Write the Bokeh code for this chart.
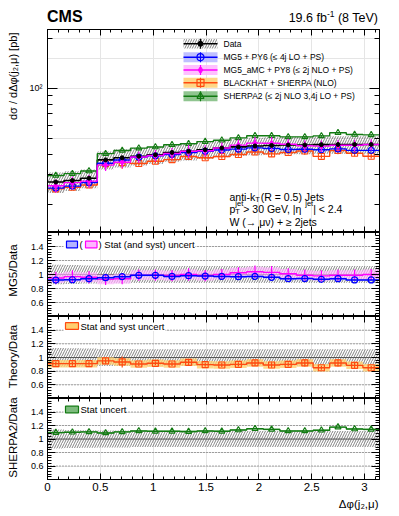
import numpy as np
from bokeh.plotting import figure
from bokeh.layouts import column, row
from bokeh.models import (Range1d, LinearScale, LinearAxis, LogAxis, FixedTicker,
                          CustomJSTickFormatter, Label, Span, Div)
from bokeh.embed import file_html
from bokeh.resources import INLINE

# ---------------- data ----------------
n_bins = 20
phi_max = np.pi

data_xs = [27.2, 27.8, 28.7, 37.0, 38.1, 38.9, 39.7, 41.0, 41.7, 42.6,
           43.6, 44.3, 44.9, 45.2, 45.5, 45.5, 45.7, 45.8, 45.8, 45.8]
data_tot_rel = [0.14, 0.135, 0.13, 0.125, 0.125, 0.12, 0.12, 0.12, 0.12, 0.12,
                0.12, 0.12, 0.12, 0.12, 0.12, 0.12, 0.12, 0.12, 0.12, 0.12]
data_stat_rel = [0.012] * 20

mg5_xs = [25.02, 25.72, 26.98, 35.30, 36.92, 38.43, 39.22, 39.89, 40.99, 41.66,
          42.42, 42.93, 43.69, 43.35, 42.77, 42.86, 42.55, 43.10, 42.23, 42.23]
mg5_stat_rel = [0.015] * 20

amc_xs = [25.84, 26.97, 27.55, 34.41, 35.81, 38.51, 39.30, 40.39, 41.70, 41.96,
          43.60, 45.41, 46.70, 46.56, 45.96, 45.05, 44.79, 45.34, 45.34, 45.80]
amc_err_rel = [0.09, 0.09, 0.09, 0.08, 0.08, 0.08, 0.08, 0.08, 0.09, 0.08,
               0.08, 0.08, 0.09, 0.09, 0.08, 0.08, 0.08, 0.08, 0.08, 0.08]
amc_band_rel = [0.07] * 20

bh_xs = [24.75, 25.30, 26.12, 35.15, 35.62, 35.20, 36.33, 37.11, 38.78, 38.13,
         38.80, 39.87, 41.31, 40.23, 40.95, 41.86, 38.85, 42.14, 40.53, 38.93]
bh_err_rel = [0.03, 0.03, 0.03, 0.04, 0.08, 0.03, 0.03, 0.03, 0.04, 0.03,
              0.03, 0.03, 0.04, 0.04, 0.03, 0.05, 0.03, 0.05, 0.04, 0.03]
bh_band_rel = [0.055] * 20

sh2_xs = [29.78, 30.58, 31.71, 40.33, 42.10, 43.53, 44.23, 45.67, 46.29, 47.67,
          48.57, 50.19, 51.72, 51.66, 50.91, 50.91, 51.60, 53.86, 52.58, 52.35]
sh2_stat_rel = [0.012] * 20

x_ticks = [0, 0.5, 1, 1.5, 2, 2.5, 3]
x_tick_labels = ["0", "0.5", "1", "1.5", "2", "2.5", "3"]
ratio_ticks = [0.6, 0.8, 1.0, 1.2, 1.4]
ratio_tick_labels = ["0.6", "0.8", "1", "1.2", "1.4"]
main_ticks = [100]
main_tick_labels = ["10\u00b2"]

# ---------------- style / geometry ----------------
FONT = "Liberation Sans"
C_BLUE, B_BLUE = "#0000ff", "#b4b4ff"
C_MAG, B_MAG = "#ff00ff", "#ffb4ff"
C_ORA, B_ORA = "#ff4a10", "#ffcf70"
C_GRN, B_GRN = "#127a12", "#7dbb7d"
HATCH = "#5a5a5a"

LEFT_W = 22            # width of the strip holding the y titles
COL_W = 369            # width of the panel column
FX0, FX1 = 47, 379     # frame left / right (page px)
BL, BR = FX0 - LEFT_W, LEFT_W + COL_W - FX1
Y_MAIN = (29, 232)
Y_R1 = (232, 316)
Y_R2 = (316, 398)
Y_R3 = (398, 479)
R3_BOTTOM = 17
FOOT_H = 17
TOTAL_H = Y_R3[1] + R3_BOTTOM + FOOT_H

edges = np.linspace(0, phi_max, n_bins + 1)
lo, hi = edges[:-1], edges[1:]
ctr = 0.5 * (lo + hi)

data = np.array(data_xs)
models = {k: np.array(v) for k, v in
          dict(mg5=mg5_xs, amc=amc_xs, bh=bh_xs, sh2=sh2_xs).items()}

WID = {' ': 278, '(': 333, ')': 333, '-': 333, '.': 278, ',': 278, '/': 278, '=': 584,
       '+': 584, '>': 584, '<': 584, '|': 260, 'a': 556, 'b': 556, 'c': 500, 'd': 556,
       'e': 556, 'f': 278, 'i': 222, 'j': 222, 'k': 500, 'n': 556, 'p': 556, 'r': 333,
       's': 500, 't': 278, 'u': 556, 'y': 500, 'G': 778, 'J': 500, 'R': 722, 'T': 611,
       'V': 667, 'W': 944, 'η': 556}


def tw(s, size):
    return sum(WID.get(c, 556) for c in s) / 1000.0 * size


def fmt(ticks, labels):
    return CustomJSTickFormatter(args=dict(t=list(ticks), l=list(labels)), code="""
        for (let i = 0; i < t.length; i++) { if (Math.abs(t[i] - tick) < 1e-6) return l[i]; }
        return "";""")


def style_axis(ax, tin, tmin, labels, size="9px", standoff=4):
    ax.major_tick_in = tin
    ax.major_tick_out = 0
    ax.minor_tick_in = tmin
    ax.minor_tick_out = 0
    ax.axis_line_color = "black"
    ax.major_tick_line_color = "black"
    ax.minor_tick_line_color = "black"
    ax.major_label_text_font = FONT
    ax.major_label_text_color = "black"
    if labels:
        ax.major_label_text_font_size = size
        ax.major_label_standoff = standoff
    else:
        ax.major_label_text_font_size = "0px"
        ax.major_label_standoff = 0


def text_fig(w, h, xr, yr, bl=0, br=0):
    """A bare figure used only for text; its frame spans x range xr and the full height."""
    p = figure(width=w, height=h, x_range=Range1d(*xr), y_range=Range1d(*yr), title=None,
               x_axis_location=None, y_axis_location=None, output_backend="svg",
               toolbar_location=None, min_border_left=bl, min_border_right=br,
               min_border_top=0, min_border_bottom=0)
    p.outline_line_color = None
    p.grid.visible = False
    p.background_fill_color = "white"
    p.border_fill_color = "white"
    return p


def make_fig(yspan, yr, log=False, bb=0):
    p = figure(width=COL_W, height=yspan[1] - yspan[0] + bb, x_range=Range1d(0, phi_max),
               y_range=yr, y_axis_type="log" if log else "linear", title=None,
               x_axis_location=None, y_axis_location=None,
               output_backend="svg", toolbar_location=None,
               min_border_left=BL, min_border_right=BR,
               min_border_top=0, min_border_bottom=bb)
    p.extra_x_ranges = {"px": Range1d(FX0, FX1)}
    p.extra_y_ranges = {"py": Range1d(yspan[1], yspan[0])}
    p.extra_x_scales = {"px": LinearScale()}
    p.extra_y_scales = {"py": LinearScale()}
    p.outline_line_color = "black"
    p.outline_line_width = 1
    p.background_fill_color = "white"
    p.border_fill_color = "white"
    return p


def x_axes(p, labels_below=False):
    for loc in ["below", "above"]:
        lab = labels_below and loc == "below"
        ax = LinearAxis(ticker=FixedTicker(ticks=x_ticks, minor_ticks=[k / 10 for k in range(32)]),
                        formatter=fmt(x_ticks, x_tick_labels if lab else [""] * len(x_ticks)))
        style_axis(ax, 6, 3, lab, "11.5px", 3)
        p.add_layout(ax, loc)


def ratio_y_axes(p):
    for loc in ["left", "right"]:
        lab = loc == "left"
        ax = LinearAxis(ticker=FixedTicker(ticks=ratio_ticks,
                                           minor_ticks=[0.4 + 0.04 * k for k in range(31)]),
                        formatter=fmt(ratio_ticks, ratio_tick_labels if lab else [""] * 5))
        style_axis(ax, 8, 4, lab, "9px", 4)
        p.add_layout(ax, loc)


def txt(p, x, y, text, size, align="left", baseline="alphabetic", angle=0.0,
        bold=False, color="black", ranges=True):
    kw = dict(x_range_name="px", y_range_name="py") if ranges else {}
    p.add_layout(Label(x=x, y=y, text=text, text_font=FONT, text_font_size=f"{size}px",
                       text_align=align, text_baseline=baseline, angle=angle,
                       text_color=color, text_font_style="bold" if bold else "normal", **kw))


def step(p, vals, color, width=1.5):
    p.step(x=edges, y=np.append(vals, vals[-1]), mode="after", line_color=color,
           line_width=width)


def errbars(p, vals, rel, color, width=1.2, ratio=False):
    d = np.array(rel) if ratio else vals * np.array(rel)
    p.segment(x0=ctr, y0=vals - d, x1=ctr, y1=vals + d, line_color=color, line_width=width)


def band(p, vals, half, color, alpha=0.75):
    p.quad(left=lo, right=hi, bottom=vals - half, top=vals + half, fill_color=color,
           fill_alpha=alpha, line_color=None)


def hatch(p, bottom, top, **kw):
    p.quad(left=lo, right=hi, bottom=bottom, top=top, fill_alpha=0, line_color=None,
           hatch_pattern="/", hatch_color=HATCH, hatch_scale=5, hatch_weight=0.75, **kw)


# ---------------- header (HTML text, not clipped) ----------------
header_html = (
    f'<div style="position:relative;width:{COL_W}px;height:{Y_MAIN[0]}px;'
    f'font-family:\'{FONT}\';color:black;">'
    f'<span style="position:absolute;left:{FX0 - LEFT_W}px;top:9px;font-size:16px;'
    f'font-weight:bold;line-height:16px;white-space:nowrap;">CMS</span>'
    f'<span style="position:absolute;right:{BR + 1}px;top:12px;font-size:12.5px;'
    f'line-height:12.5px;white-space:nowrap;">19.6 fb'
    f'<span style="font-size:8.5px;position:relative;top:-5px;">-1</span> (8 TeV)</span>'
    f'</div>')
header = Div(text=header_html, width=COL_W, height=Y_MAIN[0], margin=0)

# ---------------- main panel ----------------
main = make_fig(Y_MAIN, Range1d(13.51, 225.8), log=True)
x_axes(main)
for loc in ["left", "right"]:
    lab = loc == "left"
    ax = LogAxis(ticker=FixedTicker(ticks=main_ticks,
                                    minor_ticks=[20, 30, 40, 50, 60, 70, 80, 90, 200]),
                 formatter=fmt(main_ticks, main_tick_labels if lab else [""]))
    style_axis(ax, 10, 5, lab, "9px", 5)
    main.add_layout(ax, loc)

tot = np.array(data_tot_rel)
hatch(main, data * (1 - tot), data * (1 + tot))

styles = [("sh2", C_GRN, sh2_stat_rel, "triangle"), ("bh", C_ORA, bh_err_rel, "square"),
          ("mg5", C_BLUE, mg5_stat_rel, "circle"), ("amc", C_MAG, amc_err_rel, "diamond")]
step(main, data, "black", 1.6)
for key, col, rel, mk in styles:
    v = models[key]
    step(main, v, col, 1.4)
    errbars(main, v, rel, col)
    if mk == "diamond":
        main.scatter(ctr, v, marker="diamond", size=6, fill_color=col, line_color=col)
    else:
        main.scatter(ctr, v, marker=mk, size=6, fill_color=None, line_color=col, line_width=1.1)
errbars(main, data, data_stat_rel, "black")
main.scatter(ctr, data, marker="circle", size=4, fill_color="black", line_color="black")

# legend in main panel
rows = [43.3, 56.7, 69.5, 82.3, 95.8]
main.quad(left=[183], right=[217], bottom=[48], top=[38.5], fill_alpha=0, line_color=None,
          hatch_pattern="/", hatch_color=HATCH, hatch_scale=5, hatch_weight=0.75,
          x_range_name="px", y_range_name="py")
leg = [("black", None, "circle"), (C_BLUE, B_BLUE, "circle"), (C_MAG, B_MAG, "diamond"),
       (C_ORA, B_ORA, "square"), (C_GRN, B_GRN, "triangle")]
for yrow, (col, bcol, mk) in zip(rows, leg):
    if bcol is not None:
        main.quad(left=[183], right=[217], bottom=[yrow + 5], top=[yrow - 5], fill_color=bcol,
                  fill_alpha=0.85, line_color=None, x_range_name="px", y_range_name="py")
    main.segment(x0=[183], y0=[yrow], x1=[217], y1=[yrow], line_color=col, line_width=1.5,
                 x_range_name="px", y_range_name="py")
    main.segment(x0=[200], y0=[yrow - 5], x1=[200], y1=[yrow + 5], line_color=col,
                 line_width=1.2, x_range_name="px", y_range_name="py")
    if col == "black":
        main.scatter([200], [yrow], marker="circle", size=5, fill_color="black",
                     line_color="black", x_range_name="px", y_range_name="py")
    elif mk == "diamond":
        main.scatter([200], [yrow], marker="diamond", size=7, fill_color=col, line_color=col,
                     x_range_name="px", y_range_name="py")
    else:
        main.scatter([200], [yrow], marker=mk, size=7, fill_color=None, line_color=col,
                     line_width=1.2, x_range_name="px", y_range_name="py")
leg_text = ["Data", "MG5 + PY6 (\u2264 4j LO + PS)", "MG5_aMC + PY8 (\u2264 2j NLO + PS)",
            "BLACKHAT + SHERPA (NLO)", "SHERPA2 (\u2264 2j NLO 3,4j LO + PS)"]
for yrow, t in zip(rows, leg_text):
    txt(main, 223, yrow, t, 8.5, baseline="middle")

# annotation block
fs, fss = 10.5, 7.5
x0 = 229
txt(main, x0, 196, "anti-k", fs)
txt(main, x0 + tw("anti-k", fs), 198.5, "T", fss)
txt(main, x0 + tw("anti-k", fs) + tw("T", fss) + 1, 196, " (R = 0.5) Jets", fs)
xp = x0 + tw("p", fs)
txt(main, x0, 208, "p", fs)
txt(main, xp, 210.5, "T", fss)
txt(main, xp, 203, "jet", fss)
x2 = xp + tw("jet", fss)
txt(main, x2, 208, " > 30 GeV, |\u03b7", fs)
x3 = x2 + tw(" > 30 GeV, |\u03b7", fs)
txt(main, x3, 203, "jet", fss)
txt(main, x3 + tw("jet", fss), 208, "| < 2.4", fs)
txt(main, x0, 221, "W (\u2192 \u03bc\u03bd) + \u2265 2jets", fs)


# ---------------- ratio panels ----------------
def ratio_panel(yspan, bb=0):
    p = make_fig(yspan, Range1d(0.4, 1.6), bb=bb)
    ratio_y_axes(p)
    for v in [0.6, 0.8, 1.2, 1.4]:
        p.add_layout(Span(location=v, dimension="width", line_color="#555555",
                          line_dash="1 2", line_width=1, level="underlay"))
    p.add_layout(Span(location=1.0, dimension="width", line_color="#555555",
                      line_width=1, level="underlay"))
    hatch(p, 1 - tot, 1 + tot)
    return p


def legend_box(p, xa, xb, yc, fill, line):
    p.quad(left=[xa], right=[xb], bottom=[yc + 3.3], top=[yc - 3.3], fill_color=fill,
           line_color=line, line_width=1.2, x_range_name="px", y_range_name="py")


def legend_bg(p, xa, xb, yc):
    p.quad(left=[xa], right=[xb], bottom=[yc + 5], top=[yc - 5], fill_color="white",
           line_color=None, x_range_name="px", y_range_name="py")


# R1: MG5 / Data
r1 = ratio_panel(Y_R1)
x_axes(r1)
rm = models["mg5"] / data
ra = models["amc"] / data
band(r1, ra, np.array(amc_band_rel), B_MAG, 0.7)
band(r1, rm, np.array(mg5_stat_rel), B_BLUE, 0.8)
step(r1, ra, C_MAG, 1.4)
errbars(r1, ra, amc_err_rel, C_MAG, ratio=True)
step(r1, rm, C_BLUE, 1.5)
r1.scatter(ctr, rm, marker="circle", size=6, fill_color=None, line_color=C_BLUE, line_width=1.2)
legend_bg(r1, 63, 195, 244)
legend_box(r1, 66, 77, 244, B_BLUE, C_BLUE)
txt(r1, 79, 244, "(", 9.5, baseline="middle")
legend_box(r1, 85, 96.5, 244, B_MAG, C_MAG)
txt(r1, 98, 244, ") Stat (and syst) uncert", 9.5, baseline="middle")

# R2: Theory / Data
r2 = ratio_panel(Y_R2)
x_axes(r2)
rb = models["bh"] / data
band(r2, rb, np.array(bh_band_rel), B_ORA, 0.8)
step(r2, rb, C_ORA, 1.4)
errbars(r2, rb, bh_err_rel, C_ORA, ratio=True)
r2.scatter(ctr, rb, marker="square", size=6, fill_color=None, line_color=C_ORA, line_width=1.2)
legend_bg(r2, 63, 165, 325.5)
legend_box(r2, 65, 78, 325.5, B_ORA, C_ORA)
txt(r2, 80, 325.5, "Stat and syst uncert", 9.5, baseline="middle")

# R3: SHERPA2 / Data
r3 = ratio_panel(Y_R3, bb=R3_BOTTOM)
x_axes(r3, labels_below=True)
rs = models["sh2"] / data
band(r3, rs, np.array(sh2_stat_rel), B_GRN, 0.85)
step(r3, rs, C_GRN, 1.4)
r3.scatter(ctr, rs, marker="triangle", size=6, fill_color=None, line_color=C_GRN,
           line_width=1.2)
legend_bg(r3, 63, 125, 409)
legend_box(r3, 65, 78, 409, B_GRN, C_GRN)
txt(r3, 80, 409, "Stat uncert", 9.5, baseline="middle")

# ---------------- footer (x title) ----------------
foot_top = Y_R3[1] + R3_BOTTOM
footer = text_fig(COL_W, FOOT_H, (FX0, FX1), (foot_top + FOOT_H, foot_top), BL, BR)
txt(footer, FX1 - 1, 503, "\u0394\u03c6(j\u2082,\u03bc)", 11.5, align="right", ranges=False)

# ---------------- left strip (y titles) ----------------
left = text_fig(LEFT_W, TOTAL_H, (0, LEFT_W), (TOTAL_H, 0))
txt(left, 12, Y_MAIN[0], "d\u03c3 / d\u0394\u03c6(j\u2082,\u03bc)  [pb]", 11, align="right",
    baseline="middle", angle=np.pi / 2, ranges=False)
txt(left, 12, 270, "MG5/Data", 11.5, align="center", baseline="middle", angle=np.pi / 2,
    ranges=False)
txt(left, 12, 356, "Theory/Data", 11.5, align="center", baseline="middle", angle=np.pi / 2,
    ranges=False)
txt(left, 12, 437, "SHERPA2/Data", 11.5, align="center", baseline="middle", angle=np.pi / 2,
    ranges=False)

layout = row(left, column(header, main, r1, r2, r3, footer, spacing=0), spacing=0)
open("out.html", "w").write(file_html(layout, INLINE))
